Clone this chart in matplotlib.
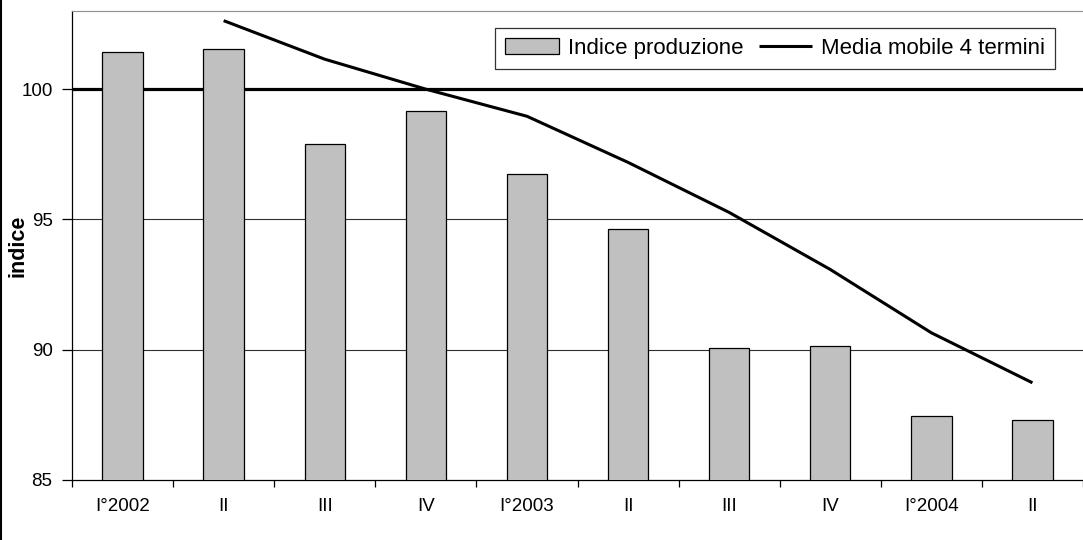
import matplotlib.pyplot as plt
from matplotlib.lines import Line2D
import numpy as np

plt.rcParams["font.family"] = ["Liberation Sans", "DejaVu Sans"]

# ------------------------------------------------------------
# Data
# ------------------------------------------------------------
quarters = ["I°2002", "II", "III", "IV", "I°2003", "II", "III", "IV", "I°2004", "II"]
indice_produzione = [101.43, 101.54, 97.91, 99.15, 96.73, 94.64, 90.05, 90.15, 87.47, 87.31]
media_mobile = [None, 102.63, 101.15, 100.0, 98.96, 97.19, 95.27, 93.08, 90.65, 88.73]
y_ticks = [85, 90, 95, 100]

# ------------------------------------------------------------
# Figure
# ------------------------------------------------------------
fig = plt.figure(figsize=(10.83, 5.4), dpi=100)
ax = fig.add_axes([72 / 1083, 60 / 540, 1 - 72 / 1083, 1 - 71 / 540])

x = np.arange(len(quarters))
bars = ax.bar(x, indice_produzione, width=0.4, color="#c0c0c0", edgecolor="black",
              linewidth=0.9, label="Indice produzione", zorder=3)

mm_x = [i for i, v in enumerate(media_mobile) if v is not None]
mm_y = [v for v in media_mobile if v is not None]
line, = ax.plot(mm_x, mm_y, color="black", linewidth=2.2, label="Media mobile 4 termini",
                zorder=4, solid_capstyle="butt")

# reference line at 100 + light grid
ax.axhline(100, color="black", linewidth=2.3, zorder=2)
for yv in [90, 95]:
    ax.axhline(yv, color="#303030", linewidth=0.8, zorder=1)

ax.set_xlim(-0.5, len(quarters) - 0.5)
ax.set_ylim(85, 103)
ax.set_yticks(y_ticks)
ax.set_xticks(x)
ax.set_xticklabels(quarters)
ax.set_xticks(np.arange(len(quarters) + 1) - 0.5, minor=True)
ax.tick_params(axis="x", which="major", length=0, pad=13, labelsize=13.5)
ax.tick_params(axis="x", which="minor", length=5, width=0.9, direction="out")
ax.tick_params(axis="y", length=7, width=0.9, pad=7, labelsize=13.5)

ax.set_ylabel("indice", fontsize=15.5, fontweight="bold")
ax.yaxis.set_label_coords(-0.0435, 0.5)

ax.spines["right"].set_visible(False)
ax.spines["top"].set_color("#909090")
ax.spines["top"].set_linewidth(0.8)
ax.spines["left"].set_linewidth(0.9)
ax.spines["bottom"].set_linewidth(0.9)

leg = ax.legend([bars, line], ["Indice produzione", "Media mobile 4 termini"],
                ncol=2, loc="upper right", bbox_to_anchor=(0.9723, 0.9638),
                fontsize=16, frameon=True, fancybox=False, edgecolor="black",
                handlelength=2.4, handleheight=0.7, handletextpad=0.4,
                columnspacing=0.7, borderpad=0.45, borderaxespad=0)
leg.get_frame().set_linewidth(0.9)

# left border of the chart area
fig.add_artist(Line2D([0.001, 0.001], [0, 1], color="black", linewidth=1.5,
                      transform=fig.transFigure))

fig.savefig("out.png", dpi=100)
